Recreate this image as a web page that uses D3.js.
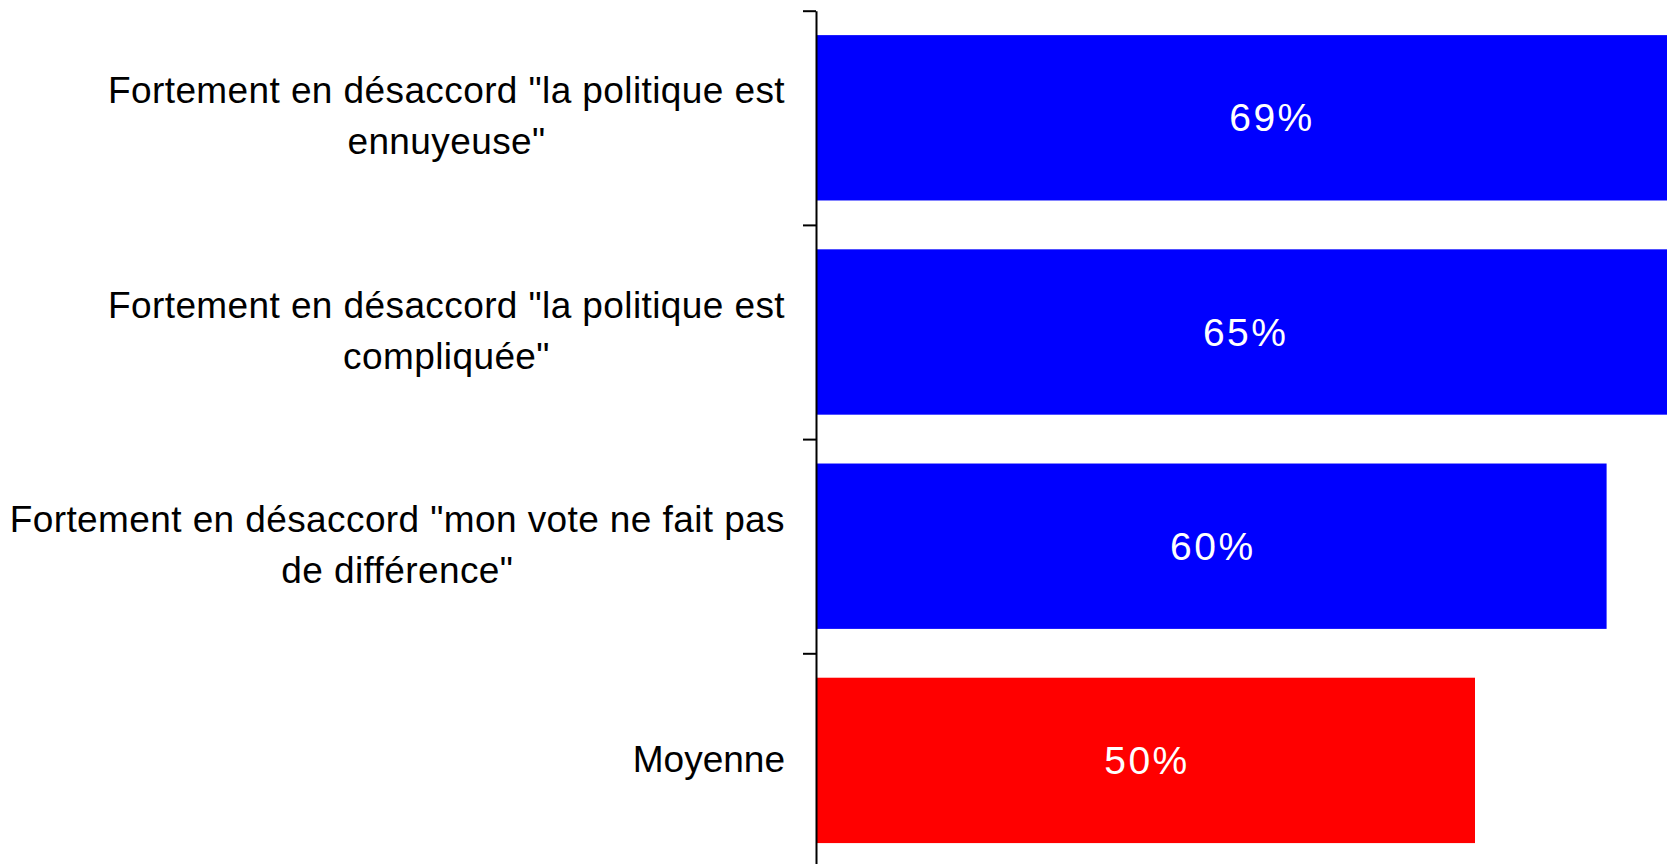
<!DOCTYPE html>
<html>
<head>
<meta charset="utf-8">
<script src="https://cdn.jsdelivr.net/npm/d3@7"></script>
<style>
  html, body { margin: 0; padding: 0; background: #fff; overflow: hidden; }
  svg { display: block; }
  text { font-family: "Liberation Sans", Arial, sans-serif; }
</style>
</head>
<body>
<svg id="chart" width="1667" height="864"></svg>
<script>
// ---- data ----
const categories = [
  ["Fortement en désaccord \"la politique est", "ennuyeuse\""],
  ["Fortement en désaccord \"la politique est", "compliquée\""],
  ["Fortement en désaccord \"mon vote ne fait pas", "de différence\""],
  ["Moyenne"]
];
const values = [69, 65, 60, 50];
const barColors = ["#0000ff", "#0000ff", "#0000ff", "#ff0000"];
const valueLabels = ["69%", "65%", "60%", "50%"];

// ---- layout ----
const W = 1667, H = 864;
const axisX = 816;
const top0 = 10.7, step = 214.2;
const svg = d3.select("#chart");

const idx = d3.range(categories.length);
const y = d3.scaleBand()
  .domain(idx)
  .range([top0, top0 + step * categories.length])
  .paddingInner(0.228)
  .paddingOuter(0.228 / 2);

const x = d3.scaleLinear().domain([0, 100]).range([axisX + 1, axisX + 1 + 1316]);

// bars
svg.selectAll("rect.bar")
  .data(values)
  .join("rect")
  .attr("class", "bar")
  .attr("x", x(0))
  .attr("y", (d, i) => y(i))
  .attr("width", d => x(d) - x(0))
  .attr("height", y.bandwidth())
  .attr("fill", (d, i) => barColors[i]);

// value labels
svg.selectAll("text.val")
  .data(values)
  .join("text")
  .attr("class", "val")
  .attr("x", d => x(d / 2) + 1)
  .attr("y", (d, i) => y(i) + y.bandwidth() / 2)
  .attr("dy", "0.35em")
  .attr("text-anchor", "middle")
  .attr("fill", "#fff")
  .attr("font-size", 39)
  .attr("letter-spacing", 2.5)
  .text((d, i) => valueLabels[i]);

// axis (ticks at band boundaries)
const yb = d3.scaleLinear().domain([0, categories.length]).range([top0, top0 + step * categories.length]);
const axis = svg.append("g")
  .attr("transform", `translate(${axisX},0)`)
  .call(d3.axisLeft(yb).tickValues(d3.range(categories.length + 1)).tickFormat("").tickSize(13).tickSizeOuter(0));
axis.selectAll("path, line").attr("stroke", "#000").attr("stroke-width", 2);

// category labels
const fs = 37, lh = 51;
const rightEdge = 785;
categories.forEach((lines, i) => {
  const cy = y(i) + y.bandwidth() / 2;
  const t = svg.append("text")
    .attr("font-size", fs)
    .attr("letter-spacing", lines.length > 1 ? 0.4 : 0)
    .attr("fill", "#000")
    .attr("text-anchor", "middle");
  const n = lines.length;
  lines.forEach((ln, j) => {
    t.append("tspan")
      .attr("y", cy + (j - (n - 1) / 2) * lh)
      .attr("dy", "0.3em")
      .text(ln);
  });
  let maxW = 0;
  t.selectAll("tspan").each(function () { maxW = Math.max(maxW, this.getComputedTextLength()); });
  t.selectAll("tspan").attr("x", rightEdge - maxW / 2);
});
</script>
</body>
</html>
